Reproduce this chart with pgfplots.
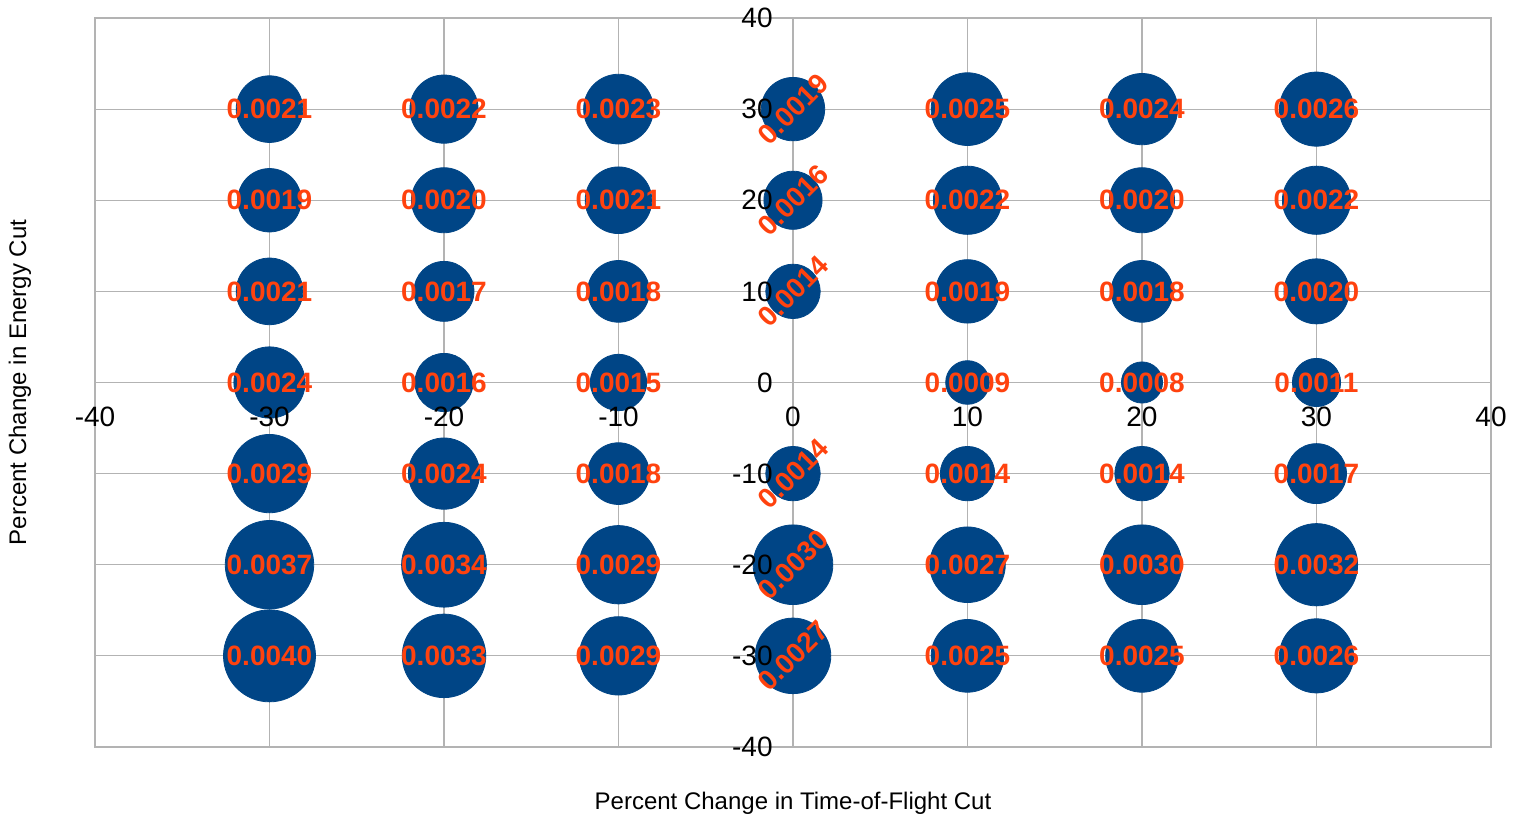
\documentclass[border=0pt]{standalone}
\usepackage{pgfplots}
\pgfplotsset{compat=1.18}
\usepackage{fontspec}
\setmainfont{Liberation Sans}
\definecolor{bubblecol}{RGB}{0,69,134}
\definecolor{labelcol}{RGB}{255,66,14}
\definecolor{gridgray}{RGB}{179,179,179}
\pgfplotstableread{
x y v
-30 30 0.0021
-20 30 0.0022
-10 30 0.0023
10 30 0.0025
20 30 0.0024
30 30 0.0026
-30 20 0.0019
-20 20 0.0020
-10 20 0.0021
10 20 0.0022
20 20 0.0020
30 20 0.0022
-30 10 0.0021
-20 10 0.0017
-10 10 0.0018
10 10 0.0019
20 10 0.0018
30 10 0.0020
-30 0 0.0024
-20 0 0.0016
-10 0 0.0015
10 0 0.0009
20 0 0.0008
30 0 0.0011
-30 -10 0.0029
-20 -10 0.0024
-10 -10 0.0018
10 -10 0.0014
20 -10 0.0014
30 -10 0.0017
-30 -20 0.0037
-20 -20 0.0034
-10 -20 0.0029
10 -20 0.0027
20 -20 0.0030
30 -20 0.0032
-30 -30 0.0040
-20 -30 0.0033
-10 -30 0.0029
10 -30 0.0025
20 -30 0.0025
30 -30 0.0026
}\mainpts
\pgfplotstableread{
x y v
0 30 0.0019
0 20 0.0016
0 10 0.0014
0 -10 0.0014
0 -20 0.0030
0 -30 0.0027
}\zeropts
\pgfplotsset{
  bubble/.style={
    scatter, only marks, mark=*,
    mark options={draw=bubblecol, fill=bubblecol},
    scatter/use mapped color={draw=bubblecol, fill=bubblecol},
    visualization depends on={23*sqrt(250*\thisrow{v}) \as \rad},
    scatter/@pre marker code/.append style={/tikz/mark size=\rad},
    point meta=\thisrow{v},
  },
  bubblelabel/.style={
    only marks, mark=none,
    point meta=\thisrow{v},
    nodes near coords={\pgfmathprintnumber[fixed,fixed zerofill,precision=4]{\pgfplotspointmeta}},
    nodes near coords align={center},
    every node near coord/.append style={font=\bfseries\fontsize{14}{16}\selectfont, text=labelcol, anchor=center, inner sep=0pt},
  },
  commonaxis/.style={
    at={(47.5pt,36pt)}, anchor=south west,
    width=698pt, height=364.5pt, scale only axis,
    xmin=-40, xmax=40, ymin=-40, ymax=40,
    xtick={-40,-30,...,40}, ytick={-40,-30,...,40},
    major tick length=0pt,
    clip=false,
  },
}
\begin{document}
\begin{tikzpicture}
\path (0,0) rectangle (761.5pt,409.5pt);
\begin{axis}[
  commonaxis,
  axis line style={draw=gridgray, line width=0.6pt},
  grid=major, grid style={draw=gridgray, line width=0.6pt},
  xticklabels={}, yticklabels={},
  xlabel={Percent Change in Time-of-Flight Cut},
  ylabel={Percent Change in Energy Cut},
  xlabel style={at={(axis description cs:0.5,-0.0768)}, anchor=center, font=\fontsize{12}{14}\selectfont},
  ylabel style={at={(axis description cs:-0.0537,0.5)}, anchor=center, rotate=0, font=\fontsize{12}{14}\selectfont},
]
\addplot[bubble] table {\mainpts};
\addplot[bubble] table {\zeropts};
\end{axis}
\begin{axis}[
  commonaxis,
  axis line style={draw=none},
  /pgf/number format/assume math mode=true,
  tick label style={font=\fontsize{14}{16}\selectfont, text=black},
  xticklabel style={anchor=center, inner sep=0pt, yshift=165.25pt},
  yticklabel style={anchor=east, inner sep=0pt, xshift=339pt},
]
\addplot[bubblelabel] table {\mainpts};
\addplot[bubblelabel, every node near coord/.append style={rotate=45}] table {\zeropts};
\end{axis}
\end{tikzpicture}
\end{document}
